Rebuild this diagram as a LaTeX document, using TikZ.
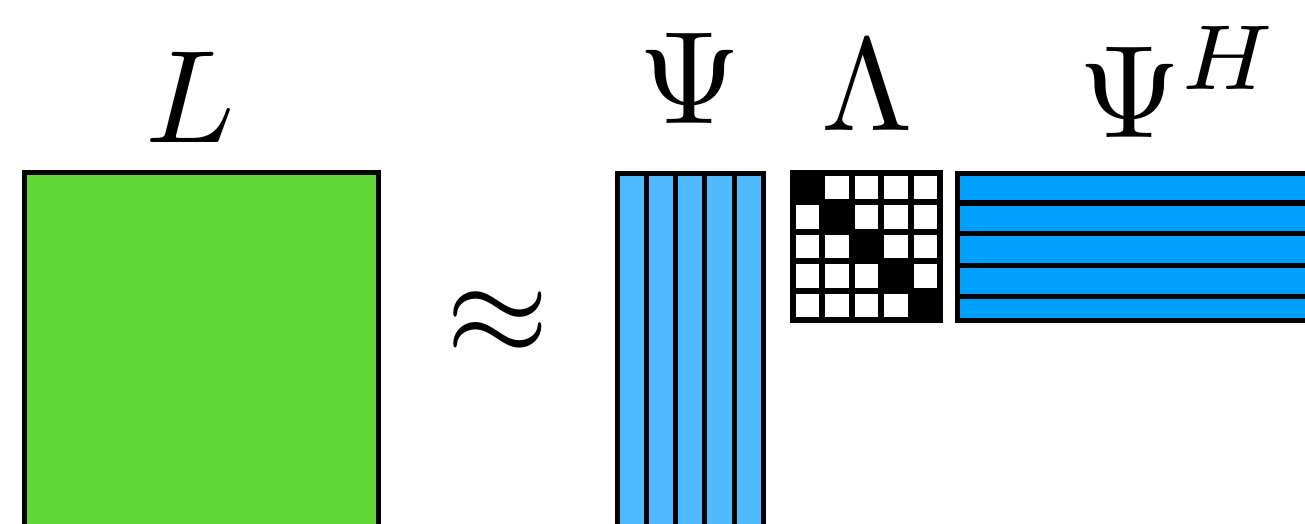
\documentclass[tikz,border=0pt]{standalone}
\usepackage{graphicx}
\definecolor{Lgreen}{RGB}{98,216,56}
\definecolor{PsiBlue}{RGB}{80,186,255}
\definecolor{PsiHBlue}{RGB}{0,160,255}
\tikzset{
  lbl/.style={inner sep=0pt, anchor=base},
  mat/.style={draw=black, line width=5pt},
}
\newcommand{\bigmath}[1]{\scalebox{13.2}{$#1$}}
\begin{document}
\begin{tikzpicture}[x=1pt,y=-1pt]
\useasboundingbox (0,0) rectangle (1305,524);
% L
\fill[Lgreen] (24.5,172.5) rectangle (378.5,526);
\draw[mat] (24.5,526) -- (24.5,172.5) -- (378.5,172.5) -- (378.5,526) -- cycle;
% Psi
\fill[PsiBlue] (617.2,173.2) rectangle (763.2,526);
\foreach \k in {1,2,3,4}{
  \draw[line width=5pt] ({617.2+29.2*\k},173.2) -- ({617.2+29.2*\k},526);
}
\draw[mat] (617.2,526) -- (617.2,173.2) -- (763.2,173.2) -- (763.2,526) -- cycle;
% Lambda
\fill[white] (793,173) rectangle (940.3,320.3);
\foreach \k in {0,...,4}{
  \fill[black] ({793+29.46*\k},{173+29.46*\k}) rectangle ({793+29.46*(\k+1)},{173+29.46*(\k+1)});
}
\foreach \k in {1,...,4}{
  \draw[line width=6pt] ({793+29.46*\k},173) -- ({793+29.46*\k},320.3);
  \draw[line width=6pt] (793,{173+29.46*\k}) -- (940.3,{173+29.46*\k});
}
\draw[line width=6pt] (793,173) rectangle (940.3,320.3);
% Psi^H
\fill[PsiHBlue] (957.7,173.5) rectangle (1310,320.5);
\foreach \yy in {203,233.5,265.5,296.3}{
  \draw[line width=5.5pt] (957.7,\yy) -- (1310,\yy);
}
\draw[line width=5.5pt] (1310,173.5) -- (957.7,173.5) -- (957.7,320.5) -- (1310,320.5);
% labels
\node[lbl] (labL) at (190,142.7) {\bigmath{L}};
\node[lbl] (approx) at (498,355) {\bigmath{\approx}};
\node[lbl] (labPsi) at (689.5,123.5) {\bigmath{\Psi}};
\node[lbl] (labLam) at (867.5,130) {\bigmath{\Lambda}};
\node[lbl, anchor=base west] (labPsiH) at (1078,137) {\bigmath{\Psi^H}};
\end{tikzpicture}
\end{document}
